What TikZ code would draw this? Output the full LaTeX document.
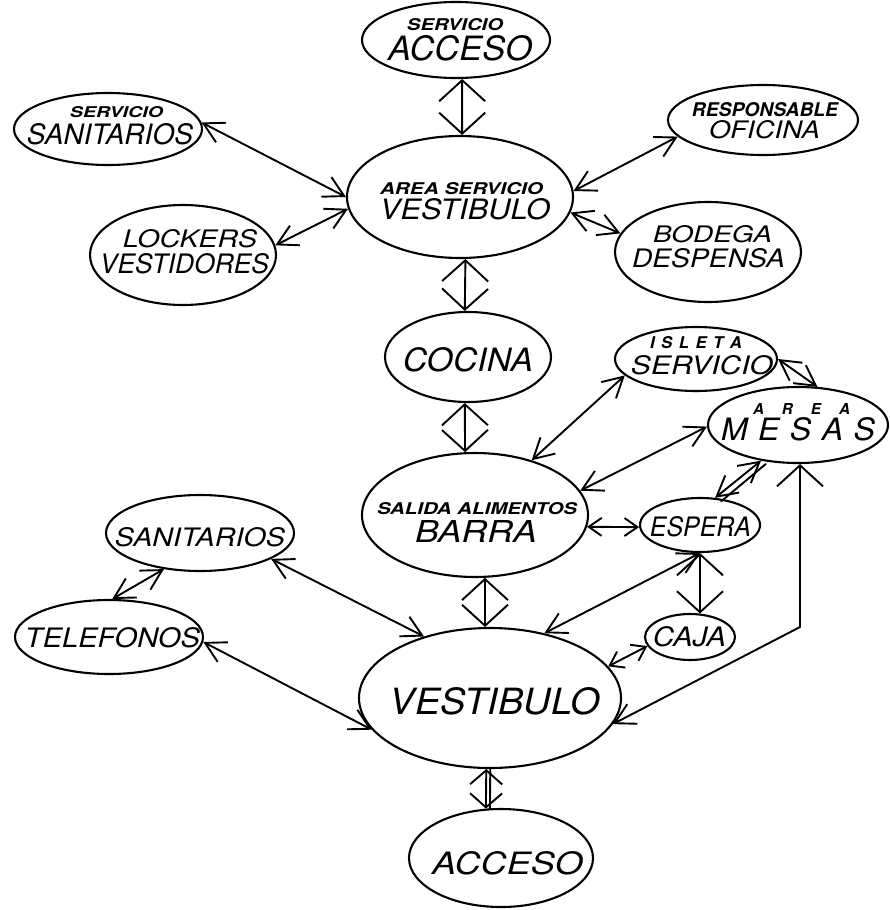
\documentclass[tikz,border=0pt]{standalone}
\usepackage{fontspec}
\usepackage{graphicx}
\usetikzlibrary{arrows.meta,shapes.geometric}
\newfontfamily\hand{TeX Gyre Heros}
\newcommand{\lbl}[3]{\resizebox{#1pt}{#2pt}{\hand\itshape #3}}
\newcommand{\lbb}[3]{\resizebox{#1pt}{#2pt}{\hand\bfseries\itshape #3}}
% spaced text: width, cap height, natural box width at 10pt, letters
\newcommand{\spc}[4]{\resizebox{#1pt}{#2pt}{\fontsize{10pt}{10pt}\selectfont\hand\itshape\hbox to #3pt{#4}}}
\newcommand{\spb}[4]{\resizebox{#1pt}{#2pt}{\fontsize{10pt}{10pt}\selectfont\hand\bfseries\itshape\hbox to #3pt{#4}}}
\tikzset{
  tA/.tip={Straight Barb[length=20pt,width=22pt]},
  tB/.tip={Straight Barb[length=21pt,width=46pt]},
  tC/.tip={Straight Barb[length=14pt,width=32pt]},
  tD/.tip={Straight Barb[length=13pt,width=18pt]},
  ell/.style={draw, ellipse, line width=2.1pt, inner sep=0pt},
  conn/.style={line width=1.9pt, line cap=round, line join=round},
  ab/.style={conn, tA-tA},
  abig/.style={conn, tB-tB},
  amid/.style={conn, tC-tC},
  asm/.style={conn, tD-tD},
  txt/.style={inner sep=0pt}
}
\begin{document}
\begin{tikzpicture}[x=1pt,y=-1pt]
\fill[white] (0,0) rectangle (890,910);
\useasboundingbox (0,0) rectangle (890,910);

% ellipses
\node[ell, minimum width=188pt, minimum height=76pt]  (A1) at (456,40) {};
\node[ell, minimum width=188pt, minimum height=72pt]  (SS) at (108,129) {};
\node[ell, minimum width=226pt, minimum height=122pt] (AV) at (460,197) {};
\node[ell, minimum width=190pt, minimum height=70pt]  (OF) at (763,120) {};
\node[ell, minimum width=186pt, minimum height=100pt] (BD) at (708,252) {};
\node[ell, minimum width=186pt, minimum height=100pt] (LK) at (183,255) {};
\node[ell, minimum width=166pt, minimum height=90pt]  (CO) at (468,357) {};
\node[ell, minimum width=162pt, minimum height=64pt]  (IS) at (696,359) {};
\node[ell, minimum width=180pt, minimum height=76pt]  (ME) at (798,425) {};
\node[ell, minimum width=226pt, minimum height=124pt] (BA) at (475,515) {};
\node[ell, minimum width=120pt, minimum height=54pt]  (ES) at (700,525) {};
\node[ell, minimum width=90pt,  minimum height=46pt]  (CA) at (690,637) {};
\node[ell, minimum width=188pt, minimum height=76pt]  (SA) at (200,533) {};
\node[ell, minimum width=188pt, minimum height=74pt]  (TE) at (109,637) {};
\node[ell, minimum width=262pt, minimum height=140pt] (VE) at (490,698) {};
\node[ell, minimum width=184pt, minimum height=98pt]  (AC) at (501,858) {};

% texts
\node[txt] (A1a) at (455,24.5)  {\lbb{96}{12}{SERVICIO}};
\node[txt] (A1b) at (460,48)    {\lbl{144}{25}{ACCESO}};
\node[txt] (SSa) at (116.5,112) {\lbb{93}{11}{SERVICIO}};
\node[txt] (SSb) at (110,134)   {\lbl{166}{21}{SANITARIOS}};
\node[txt] (AVa) at (461.5,188.5) {\lbb{163}{12}{AREA SERVICIO}};
\node[txt] (AVb) at (465,209)   {\lbl{170}{21}{VESTIBULO}};
\node[txt] (OFa) at (765,109.5) {\lbb{146}{14}{RESPONSABLE}};
\node[txt] (OFb) at (764.5,129.5) {\lbl{111}{18}{OFICINA}};
\node[txt] (BDa) at (712.5,234.5) {\lbl{119}{17}{BODEGA}};
\node[txt] (BDb) at (708.5,258) {\lbl{153}{19}{DESPENSA}};
\node[txt] (LKa) at (190,238.5) {\lbl{134}{18}{LOCKERS}};
\node[txt] (LKb) at (184.5,263.5) {\lbl{169}{20}{VESTIDORES}};
\node[txt] (COa) at (468,360)   {\lbl{130}{24}{COCINA}};
\node[txt] (ISa) at (696,343)   {\spb{92}{12}{55}{I\hfill S\hfill L\hfill E\hfill T\hfill A}};
\node[txt] (ISb) at (702,365)   {\lbl{142}{19}{SERVICIO}};
\node[txt] (MEa) at (801.5,408.5) {\spb{97}{11}{64}{A\hfill R\hfill E\hfill A}};
\node[txt] (MEb) at (798,429)   {\spc{154}{23}{48}{M\hfill E\hfill S\hfill A\hfill S}};
\node[txt] (BAa) at (477,508.5) {\lbb{200}{12}{SALIDA ALIMENTOS}};
\node[txt] (BAb) at (476,531.5) {\lbl{122}{22}{BARRA}};
\node[txt] (ESa) at (700.5,527) {\lbl{101}{20}{ESPERA}};
\node[txt] (CAa) at (689.5,637) {\lbl{73}{20}{CAJA}};
\node[txt] (SAa) at (200,537.5) {\lbl{170}{19}{SANITARIOS}};
\node[txt] (TEa) at (112.5,638) {\lbl{175}{20}{TELEFONOS}};
\node[txt] (VEa) at (495,701.5) {\lbl{210}{27}{VESTIBULO}};
\node[txt] (ACa) at (507.5,863.5) {\lbl{151}{23}{ACCESO}};

% connectors
\draw[abig] (A1.-81) -- (AV.88);
\draw[ab]   (SS.4) -- (AV.180);
\draw[ab]   (LK.6) -- (AV.186);
\draw[ab]   (OF.191) -- (AV.3);
\draw[ab]   (BD.168) -- (AV.-8);
\draw[abig] (AV.-85) -- (CO.94);
\draw[abig] (CO.266) -- (BA.99);
\draw[ab]   (IS.193) -- (BA.44);
\draw[ab]   (IS.0) -- (ME.63);
\draw[ab]   (ME.181) -- (BA.13);
\draw[ab]   (ME.224) -- (ES.61);
\draw[conn, transform canvas={shift={(2.5pt,-3pt)}}] (ME.226) -- (ES.55);
\draw[asm]  (BA.-6) -- (ES.182);
\draw[ab]   (ES.-90) -- (VE.50);
\draw[abig] (ES.-90) -- (CA.67);
\draw[asm]  (CA.192) -- (VE.15);
\coordinate (mb) at (800,627);
\draw[conn, tB-tA] (mb |- ME.south) -- (mb) -- (VE.-12);
\draw[abig] (BA.-81) -- (VE.94);
\draw[ab]   (SA.-20) -- (VE.137);
\draw[ab]   (SA.225) -- (TE.85);
\draw[ab]   (TE.-3) -- (VE.195);
\draw[amid] (VE.267) -- (AC.107);
\draw[conn, transform canvas={xshift=4pt}] (VE.267) -- (AC.107);
\end{tikzpicture}
\end{document}
